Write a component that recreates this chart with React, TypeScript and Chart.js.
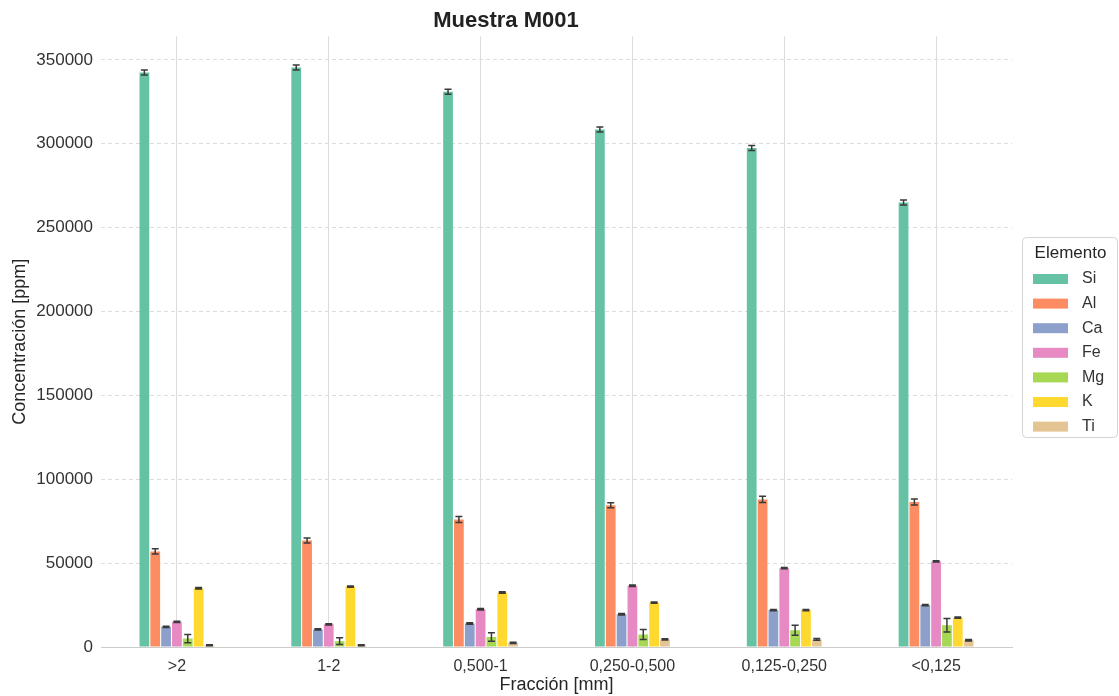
import React, { useEffect, useRef } from "react";
import { Chart, registerables } from "chart.js";

Chart.register(...registerables);

const categories = [">2", "1-2", "0,500-1", "0,250-0,500", "0,125-0,250", "<0,125"];
const elements = ["Si", "Al", "Ca", "Fe", "Mg", "K", "Ti"];

const siValues = [342500, 345500, 331000, 308500, 297500, 265000];
const alValues = [57000, 63500, 76000, 84500, 88000, 86500];
const caValues = [12000, 10500, 14000, 19500, 22000, 25000];
const feValues = [15000, 13500, 22500, 36500, 47000, 51000];
const mgValues = [5000, 3500, 6000, 7500, 10000, 13000];
const kValues = [35000, 36000, 32500, 26500, 22000, 17500];
const tiValues = [1000, 1000, 2500, 4500, 4500, 4000];

const siErr = [1500, 1500, 1500, 1500, 1500, 1500];
const alErr = [1500, 1500, 1800, 1500, 1800, 1800];
const caErr = [400, 400, 400, 400, 400, 400];
const feErr = [400, 400, 400, 400, 400, 400];
const mgErr = [2500, 2000, 2500, 3000, 3000, 4000];
const kErr = [400, 400, 400, 400, 400, 400];
const tiErr = [300, 300, 400, 400, 500, 400];

const yTicks = [0, 50000, 100000, 150000, 200000, 250000, 300000, 350000];

const colors = ["#66c2a5", "#fc8d62", "#8da0cb", "#e78ac3", "#a6d854", "#ffd92f", "#e5c494"];
const seriesValues = [siValues, alValues, caValues, feValues, mgValues, kValues, tiValues];
const seriesErrors = [siErr, alErr, caErr, feErr, mgErr, kErr, tiErr];

const FONT = "'Liberation Sans', Arial, Helvetica, sans-serif";

const errorBarPlugin = {
  id: "errorBars",
  afterDatasetsDraw(chart: any) {
    const ctx = chart.ctx;
    const yScale = chart.scales.y;
    ctx.save();
    ctx.strokeStyle = "#3a3a3a";
    ctx.lineWidth = 1.5;
    chart.data.datasets.forEach((ds: any, i: number) => {
      const meta = chart.getDatasetMeta(i);
      meta.data.forEach((el: any, j: number) => {
        const v = ds.data[j];
        const e = ds.errors[j];
        const x = el.x;
        const yHi = yScale.getPixelForValue(v + e);
        const yLo = yScale.getPixelForValue(Math.max(v - e, 0));
        const cap = 3.5;
        ctx.beginPath();
        ctx.moveTo(x, yHi);
        ctx.lineTo(x, yLo);
        ctx.moveTo(x - cap, yHi);
        ctx.lineTo(x + cap, yHi);
        ctx.moveTo(x - cap, yLo);
        ctx.lineTo(x + cap, yLo);
        ctx.stroke();
      });
    });
    ctx.restore();
  },
};

const legendPlugin = {
  id: "boxLegend",
  afterDraw(chart: any) {
    const ctx = chart.ctx;
    const bx = 1022;
    const by = 237;
    const bw = 95;
    const bh = 200;
    ctx.save();
    ctx.fillStyle = "#ffffff";
    ctx.strokeStyle = "#d4d4d4";
    ctx.lineWidth = 1;
    ctx.beginPath();
    ctx.roundRect(bx + 0.5, by + 0.5, bw, bh, 4);
    ctx.fill();
    ctx.stroke();
    ctx.fillStyle = "#262626";
    ctx.font = `17px ${FONT}`;
    ctx.textAlign = "center";
    ctx.textBaseline = "middle";
    ctx.fillText("Elemento", bx + bw / 2 + 1, by + 16);
    ctx.textAlign = "left";
    ctx.font = `16px ${FONT}`;
    chart.data.datasets.forEach((ds: any, k: number) => {
      const cy = by + 42 + k * 24.6;
      ctx.fillStyle = ds.backgroundColor;
      ctx.fillRect(bx + 11, cy - 5, 35, 10);
      ctx.fillStyle = "#333333";
      ctx.fillText(ds.label, bx + 60, cy);
    });
    ctx.restore();
  },
};

export default function App() {
  const canvasRef = useRef<HTMLCanvasElement | null>(null);

  useEffect(() => {
    document.body.style.margin = "0";
    const canvas = canvasRef.current;
    if (!canvas) return;
    const datasets = elements.map((name, i) => ({
      label: name,
      data: seriesValues[i],
      errors: seriesErrors[i],
      backgroundColor: colors[i],
      borderWidth: 0,
      categoryPercentage: 0.5,
      barPercentage: 0.9,
    }));
    const chart = new Chart(canvas, {
      type: "bar",
      data: { labels: categories, datasets: datasets as any },
      options: {
        responsive: false,
        animation: false,
        layout: { padding: { left: 0, right: 107, top: 0, bottom: 0 } },
        plugins: {
          legend: { display: false },
          tooltip: { enabled: false },
          title: {
            display: true,
            text: "Muestra M001",
            color: "#222222",
            font: { family: FONT, size: 22, weight: "bold" },
            padding: { top: 8, bottom: 2 },
          },
        },
        scales: {
          x: {
            afterFit: (s: any) => {
              s.height = 49;
            },
            grid: { color: "#dcdcdc", lineWidth: 1, offset: false, drawTicks: false },
            border: { display: true, color: "#cccccc", width: 1 },
            ticks: { color: "#333333", font: { family: FONT, size: 16 }, padding: 10, maxRotation: 0 },
            title: {
              display: true,
              text: "Fracción [mm]",
              color: "#262626",
              font: { family: FONT, size: 18 },
              padding: { top: 0, bottom: 0 },
            },
          },
          y: {
            min: 0,
            max: 364000,
            afterFit: (s: any) => {
              s.width = 101;
            },
            afterBuildTicks: (s: any) => {
              s.ticks = yTicks.map((v) => ({ value: v }));
            },
            grid: { color: "#dcdcdc", lineWidth: 1, drawTicks: false },
            border: { display: false, dash: [4, 3] },
            ticks: {
              color: "#333333",
              font: { family: FONT, size: 17 },
              padding: 8,
              callback: (v: any) => String(v),
            },
            title: {
              display: true,
              text: "Concentración [ppm]",
              color: "#262626",
              font: { family: FONT, size: 18 },
              padding: { top: 9, bottom: 0 },
            },
          },
        },
      } as any,
      plugins: [errorBarPlugin, legendPlugin],
    });
    return () => chart.destroy();
  }, []);

  return (
    <div style={{ width: 1119, height: 696 }}>
      <canvas ref={canvasRef} width={1119} height={696} />
    </div>
  );
}
